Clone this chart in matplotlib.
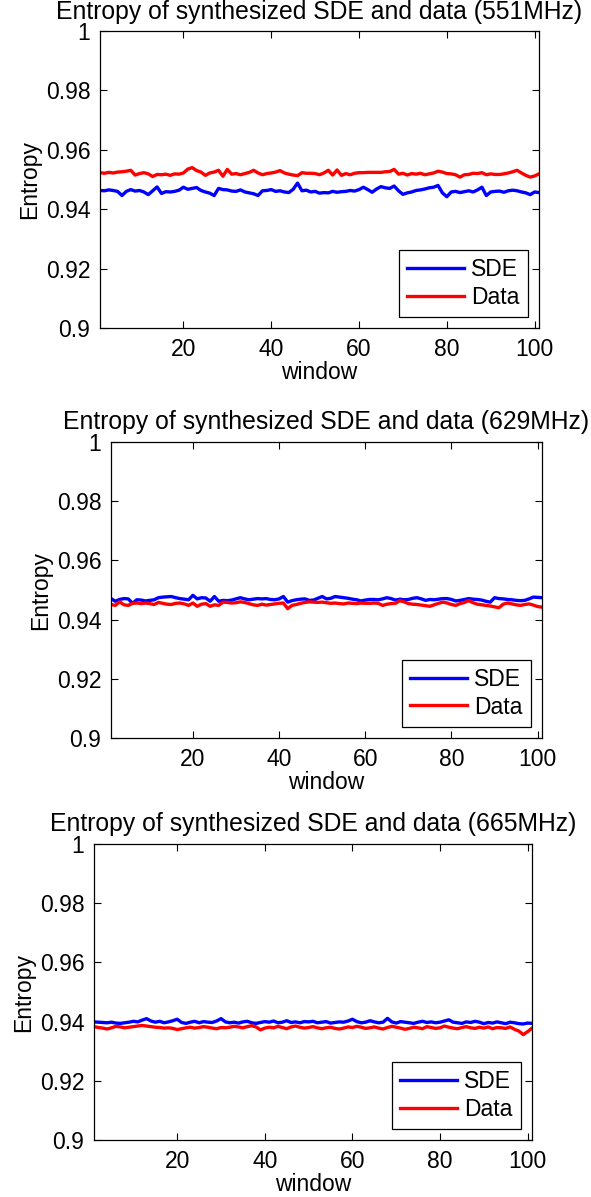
import matplotlib
matplotlib.use("Agg")
import matplotlib.pyplot as plt
import numpy as np

# window index (x axis)
window = np.arange(1, 102)

# entropy per window
sde_551 = [0.9463, 0.9462, 0.9465, 0.9463, 0.9460, 0.9446, 0.9460, 0.9466, 0.9461, 0.9463,
           0.9458, 0.9449, 0.9462, 0.9475, 0.9453, 0.9459, 0.9458, 0.9460, 0.9464, 0.9474,
           0.9467, 0.9470, 0.9473, 0.9463, 0.9458, 0.9454, 0.9446, 0.9470, 0.9466, 0.9465,
           0.9461, 0.9460, 0.9465, 0.9458, 0.9455, 0.9452, 0.9446, 0.9462, 0.9463, 0.9466,
           0.9460, 0.9462, 0.9458, 0.9456, 0.9467, 0.9488, 0.9462, 0.9464, 0.9458, 0.9460,
           0.9454, 0.9456, 0.9455, 0.9460, 0.9457, 0.9459, 0.9460, 0.9463, 0.9461, 0.9466,
           0.9474, 0.9466, 0.9457, 0.9468, 0.9476, 0.9472, 0.9470, 0.9478, 0.9462, 0.9450,
           0.9455, 0.9458, 0.9463, 0.9465, 0.9468, 0.9472, 0.9474, 0.9480, 0.9455, 0.9442,
           0.9458, 0.9460, 0.9456, 0.9459, 0.9462, 0.9458, 0.9465, 0.9474, 0.9446, 0.9458,
           0.9460, 0.9461, 0.9457, 0.9462, 0.9464, 0.9462, 0.9458, 0.9455, 0.9449, 0.9458,
           0.9456]
data_551 = [0.9523, 0.9521, 0.9524, 0.9522, 0.9525, 0.9526, 0.9528, 0.9531, 0.9515, 0.9520,
            0.9523, 0.9519, 0.9510, 0.9517, 0.9516, 0.9518, 0.9514, 0.9519, 0.9518, 0.9522,
            0.9535, 0.9540, 0.9530, 0.9525, 0.9514, 0.9522, 0.9525, 0.9531, 0.9511, 0.9534,
            0.9518, 0.9520, 0.9516, 0.9520, 0.9524, 0.9531, 0.9522, 0.9516, 0.9520, 0.9522,
            0.9525, 0.9530, 0.9522, 0.9518, 0.9515, 0.9513, 0.9523, 0.9521, 0.9521, 0.9520,
            0.9516, 0.9522, 0.9531, 0.9515, 0.9532, 0.9514, 0.9520, 0.9516, 0.9521, 0.9523,
            0.9523, 0.9524, 0.9524, 0.9524, 0.9524, 0.9526, 0.9527, 0.9534, 0.9518, 0.9521,
            0.9515, 0.9520, 0.9518, 0.9521, 0.9516, 0.9519, 0.9522, 0.9528, 0.9525, 0.9520,
            0.9519, 0.9516, 0.9508, 0.9516, 0.9517, 0.9521, 0.9520, 0.9523, 0.9516, 0.9519,
            0.9517, 0.9517, 0.9519, 0.9522, 0.9526, 0.9531, 0.9522, 0.9514, 0.9508, 0.9512,
            0.9519]

sde_629 = [0.9471, 0.9462, 0.9468, 0.9471, 0.9470, 0.9455, 0.9467, 0.9466, 0.9463, 0.9465,
           0.9467, 0.9474, 0.9476, 0.9477, 0.9478, 0.9474, 0.9471, 0.9469, 0.9467, 0.9482,
           0.9470, 0.9474, 0.9473, 0.9462, 0.9478, 0.9462, 0.9465, 0.9464, 0.9466, 0.9470,
           0.9474, 0.9470, 0.9467, 0.9469, 0.9471, 0.9470, 0.9471, 0.9468, 0.9467, 0.9470,
           0.9478, 0.9459, 0.9464, 0.9467, 0.9469, 0.9470, 0.9465, 0.9466, 0.9472, 0.9478,
           0.9470, 0.9472, 0.9478, 0.9476, 0.9474, 0.9472, 0.9469, 0.9467, 0.9463, 0.9466,
           0.9468, 0.9468, 0.9467, 0.9470, 0.9474, 0.9471, 0.9466, 0.9469, 0.9467, 0.9468,
           0.9472, 0.9474, 0.9470, 0.9465, 0.9468, 0.9467, 0.9469, 0.9471, 0.9471, 0.9468,
           0.9463, 0.9465, 0.9468, 0.9471, 0.9469, 0.9468, 0.9466, 0.9462, 0.9459, 0.9474,
           0.9471, 0.9470, 0.9468, 0.9467, 0.9465, 0.9464, 0.9465, 0.9470, 0.9476, 0.9475,
           0.9474]
data_629 = [0.9451, 0.9448, 0.9460, 0.9450, 0.9448, 0.9455, 0.9456, 0.9454, 0.9456, 0.9454,
            0.9451, 0.9458, 0.9455, 0.9452, 0.9451, 0.9455, 0.9456, 0.9453, 0.9448, 0.9456,
            0.9445, 0.9452, 0.9454, 0.9445, 0.9450, 0.9448, 0.9459, 0.9458, 0.9456, 0.9457,
            0.9460, 0.9458, 0.9454, 0.9450, 0.9448, 0.9452, 0.9449, 0.9451, 0.9453, 0.9455,
            0.9456, 0.9437, 0.9448, 0.9451, 0.9455, 0.9458, 0.9460, 0.9459, 0.9458, 0.9459,
            0.9457, 0.9455, 0.9456, 0.9454, 0.9453, 0.9456, 0.9455, 0.9454, 0.9456, 0.9455,
            0.9455, 0.9456, 0.9455, 0.9448, 0.9452, 0.9454, 0.9455, 0.9464, 0.9460, 0.9454,
            0.9452, 0.9451, 0.9449, 0.9447, 0.9445, 0.9450, 0.9455, 0.9459, 0.9456, 0.9451,
            0.9448, 0.9454, 0.9458, 0.9464, 0.9457, 0.9452, 0.9450, 0.9448, 0.9446, 0.9443,
            0.9440, 0.9452, 0.9456, 0.9453, 0.9450, 0.9448, 0.9451, 0.9453, 0.9449, 0.9444,
            0.9442]

sde_665 = [0.9399, 0.9398, 0.9397, 0.9396, 0.9398, 0.9395, 0.9394, 0.9396, 0.9398, 0.9401,
           0.9399, 0.9405, 0.9410, 0.9402, 0.9398, 0.9401, 0.9396, 0.9399, 0.9403, 0.9408,
           0.9397, 0.9394, 0.9398, 0.9401, 0.9396, 0.9400, 0.9398, 0.9397, 0.9402, 0.9410,
           0.9399, 0.9396, 0.9398, 0.9395, 0.9399, 0.9401, 0.9396, 0.9394, 0.9397, 0.9400,
           0.9398, 0.9402, 0.9396, 0.9398, 0.9403, 0.9397, 0.9399, 0.9396, 0.9400, 0.9399,
           0.9401, 0.9396, 0.9398, 0.9400, 0.9395, 0.9397, 0.9399, 0.9398, 0.9402, 0.9408,
           0.9400, 0.9396, 0.9398, 0.9403, 0.9399, 0.9396, 0.9398, 0.9411, 0.9399, 0.9395,
           0.9400, 0.9398, 0.9396, 0.9394, 0.9398, 0.9401, 0.9397, 0.9399, 0.9396, 0.9398,
           0.9402, 0.9406, 0.9398, 0.9396, 0.9394, 0.9399, 0.9397, 0.9401, 0.9398, 0.9393,
           0.9397, 0.9395, 0.9399, 0.9396, 0.9393, 0.9398, 0.9396, 0.9393, 0.9392, 0.9395,
           0.9394]
data_665 = [0.9383, 0.9380, 0.9378, 0.9375, 0.9379, 0.9384, 0.9382, 0.9379, 0.9381, 0.9383,
            0.9385, 0.9387, 0.9385, 0.9383, 0.9381, 0.9380, 0.9378, 0.9379, 0.9377, 0.9373,
            0.9376, 0.9379, 0.9381, 0.9378, 0.9380, 0.9383, 0.9381, 0.9378, 0.9376, 0.9380,
            0.9379, 0.9381, 0.9384, 0.9382, 0.9379, 0.9383, 0.9386, 0.9382, 0.9372, 0.9378,
            0.9381, 0.9379, 0.9384, 0.9380, 0.9376, 0.9382, 0.9385, 0.9381, 0.9378, 0.9380,
            0.9383, 0.9379, 0.9376, 0.9379, 0.9381, 0.9377, 0.9375, 0.9378, 0.9382, 0.9380,
            0.9384, 0.9381, 0.9377, 0.9379, 0.9382, 0.9378, 0.9375, 0.9380, 0.9384, 0.9381,
            0.9378, 0.9374, 0.9377, 0.9381, 0.9379, 0.9376, 0.9383, 0.9380, 0.9377, 0.9379,
            0.9385, 0.9381, 0.9378, 0.9376, 0.9380, 0.9383, 0.9379, 0.9377, 0.9381, 0.9378,
            0.9382, 0.9376, 0.9380, 0.9379, 0.9377, 0.9382, 0.9374, 0.9368, 0.9356, 0.9366,
            0.9378]

freqs = ["551MHz", "629MHz", "665MHz"]
sde_series = [sde_551, sde_629, sde_665]
data_series = [data_551, data_629, data_665]

xticks = [20, 40, 60, 80, 100]
yticks = [0.9, 0.92, 0.94, 0.96, 0.98, 1.0]
ytick_labels = ["0.9", "0.92", "0.94", "0.96", "0.98", "1"]

plt.rcParams["font.family"] = ["Liberation Sans", "DejaVu Sans"]
FS = 16.5
TITLE_FS = 17.8

W, H = 591, 1197
fig = plt.figure(figsize=(W / 100, H / 100), dpi=100)

# axes boxes in pixels: left, right, top, bottom
boxes = [(100, 539, 31, 328), (111, 542, 442, 738), (94, 532, 844, 1140)]

for i in range(3):
    l, r, t, b = boxes[i]
    ax = fig.add_axes([l / W, 1 - b / H, (r - l) / W, (b - t) / H])
    ax.plot(window, sde_series[i], color=(0, 0, 1), lw=2.4, label="SDE")
    ax.plot(window, data_series[i], color=(1, 0, 0), lw=2.4, label="Data")
    ax.set_xlim(1, 101)
    ax.set_ylim(0.9, 1.0)
    ax.set_xticks(xticks)
    ax.set_yticks(yticks)
    ax.set_yticklabels(ytick_labels)
    ax.tick_params(direction="in", top=True, right=True, length=5, width=0.8,
                   labelsize=FS, pad=7)
    for s in ax.spines.values():
        s.set_linewidth(0.9)
    ax.set_title("Entropy of synthesized SDE and data (%s)" % freqs[i], fontsize=TITLE_FS, pad=9)
    ax.set_xlabel("window", fontsize=FS, labelpad=0)
    ax.set_ylabel("Entropy", fontsize=FS, labelpad=3)
    leg = ax.legend(loc="lower right", fontsize=FS, fancybox=False, framealpha=1,
                    edgecolor="black", handlelength=2.5, handletextpad=0.3,
                    labelspacing=0.2, borderpad=0.35, borderaxespad=0.5)
    leg.get_frame().set_linewidth(0.9)

fig.savefig("out.png", dpi=100)
